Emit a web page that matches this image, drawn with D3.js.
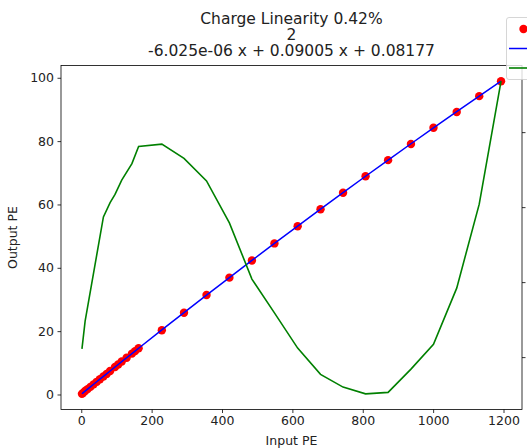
<!DOCTYPE html>
<html>
<head>
<meta charset="utf-8">
<script src="https://cdn.jsdelivr.net/npm/d3@7"></script>
<style>
  body { margin: 0; background: #fff; }
  svg { display: block; font-family: 'DejaVu Sans', sans-serif; }
</style>
</head>
<body>
<div id="chart"></div>
<script>
// measured points (input PE vs output PE)
const inputPE = [2, 5, 11, 18, 26, 35, 44, 53, 63, 72, 82, 96, 105, 115, 129, 144, 153, 163,
  229, 292, 356, 421, 485, 549, 615, 680, 744, 808, 872, 937, 1001, 1067, 1131, 1193];
const outputPE = [0.2, 0.5, 1.1, 1.7, 2.4, 3.2, 4.0, 4.8, 5.7, 6.5, 7.4, 8.7, 9.5, 10.4, 11.6, 12.9, 13.7, 14.6,
  20.3, 25.8, 31.4, 36.9, 42.3, 47.7, 53.1, 58.5, 63.7, 68.9, 74.0, 79.1, 84.2, 89.2, 94.2, 98.9];
// fitted curve at the same inputs
const fitPE = [0.25, 0.53, 1.07, 1.70, 2.42, 3.23, 4.03, 4.84, 5.73, 6.53, 7.43, 8.67, 9.47, 10.36, 11.60, 12.92, 13.72, 14.60,
  20.39, 25.86, 31.38, 36.93, 42.34, 47.70, 53.18, 58.53, 63.74, 68.91, 74.03, 79.17, 84.19, 89.31, 94.22, 98.94];
// residual on the twin axis (its tick labels fall outside the picture)
const residualX = [2, 11, 63, 82, 96, 115, 144, 163, 229, 292, 356, 421, 485, 549, 615, 680, 744, 808, 872, 937, 1001, 1067, 1131, 1193];
const residualY = [-0.089, -0.052, 0.087, 0.106, 0.117, 0.136, 0.158, 0.181, 0.184, 0.165, 0.135, 0.079, 0.004, -0.041,
  -0.088, -0.123, -0.140, -0.149, -0.147, -0.116, -0.083, -0.008, 0.104, 0.268];

const xTicks = [0, 200, 400, 600, 800, 1000, 1200];
const yTicks = [0, 20, 40, 60, 80, 100];
const y2Ticks = [-0.1, 0.0, 0.1, 0.2];
const titleLines = ['Charge Linearity 0.42%', '2', '-6.025e-06 x + 0.09005 x + 0.08177'];

const W = 527, H = 448;
const margin = {top: 65.5, right: 5, bottom: 38.5, left: 61},
  width = W - margin.left - margin.right,
  height = H - margin.top - margin.bottom;

// matplotlib-style 5% margins
function padded(ext) {
  const r = ext[1] - ext[0];
  return [ext[0] - r * 0.05, ext[1] + r * 0.05];
}

const x = d3.scaleLinear()
  .domain(padded(d3.extent(inputPE.concat(residualX))))
  .range([0, width]);
const y = d3.scaleLinear()
  .domain(padded(d3.extent(outputPE.concat(fitPE))))
  .range([height, 0]);
const y2 = d3.scaleLinear()
  .domain(padded(d3.extent(residualY)))
  .range([height, 0]);

const svg = d3.select('#chart').append('svg')
  .attr('width', W)
  .attr('height', H);

const g = svg.append('g')
  .attr('transform', `translate(${margin.left},${margin.top})`);

const fontSize = 12.5;

// axes
const xAxis = g.append('g')
  .attr('transform', `translate(0,${height})`)
  .call(d3.axisBottom(x).tickValues(xTicks).tickSize(3.5).tickPadding(3.5).tickFormat(d3.format('d')));
const yAxis = g.append('g')
  .call(d3.axisLeft(y).tickValues(yTicks).tickSize(3.5).tickPadding(3.5).tickFormat(d3.format('d')));
// right axis: labels are cut off by the picture edge, so only the tick marks
const y2Axis = g.append('g')
  .attr('transform', `translate(${width},0)`)
  .call(d3.axisRight(y2).tickValues(y2Ticks).tickSize(3.5).tickFormat(''));

[xAxis, yAxis, y2Axis].forEach(a => {
  a.select('.domain').remove();
  a.selectAll('.tick line').attr('stroke', '#000').attr('stroke-width', 0.8);
  a.selectAll('.tick text')
    .attr('fill', '#222')
    .style('font-family', 'DejaVu Sans')
    .style('font-size', fontSize + 'px');
});

// frame
g.append('rect')
  .attr('width', width)
  .attr('height', height)
  .attr('fill', 'none')
  .attr('stroke', '#000')
  .attr('stroke-width', 0.8);

const line = d3.line()
  .x((d, i) => x(inputPE[i]))
  .y(d => y(d));

// data points
g.selectAll('.pt')
  .data(outputPE)
  .enter().append('circle')
  .attr('class', 'pt')
  .attr('cx', (d, i) => x(inputPE[i]))
  .attr('cy', d => y(d))
  .attr('r', 4.2)
  .attr('fill', '#ff0000');

// fit line
g.append('path')
  .datum(fitPE)
  .attr('fill', 'none')
  .attr('stroke', '#0000ff')
  .attr('stroke-width', 1.5)
  .attr('d', line);

// residual on twin axis
const resLine = d3.line()
  .x((d, i) => x(residualX[i]))
  .y(d => y2(d));

g.append('path')
  .datum(residualY)
  .attr('fill', 'none')
  .attr('stroke', '#008000')
  .attr('stroke-width', 1.6)
  .attr('d', resLine);

// title
const title = svg.append('text')
  .attr('text-anchor', 'middle')
  .style('font-size', '15.5px')
  .attr('fill', '#222');
[23.5, 40, 56].forEach((yy, i) => {
  title.append('tspan')
    .attr('x', margin.left + width / 2)
    .attr('y', yy)
    .text(titleLines[i]);
});

// axis labels
svg.append('text')
  .attr('x', margin.left + width / 2)
  .attr('y', 445)
  .attr('text-anchor', 'middle')
  .style('font-size', fontSize + 'px')
  .attr('fill', '#222')
  .text('Input PE');

svg.append('text')
  .attr('transform', `translate(17,${margin.top + height / 2}) rotate(-90)`)
  .attr('text-anchor', 'middle')
  .style('font-size', fontSize + 'px')
  .attr('fill', '#222')
  .text('Output PE');

// legend box (runs off the right edge, only the handles are visible)
const leg = svg.append('g').attr('transform', 'translate(506.5,17.5)');
leg.append('rect')
  .attr('width', 110)
  .attr('height', 62)
  .attr('rx', 2.5)
  .attr('fill', '#fff')
  .attr('fill-opacity', 0.8)
  .attr('stroke', '#cccccc')
  .attr('stroke-width', 0.8);
leg.append('circle')
  .attr('cx', 17)
  .attr('cy', 11.5)
  .attr('r', 4.2)
  .attr('fill', '#ff0000');
leg.append('line')
  .attr('x1', 2.5).attr('x2', 31)
  .attr('y1', 31).attr('y2', 31)
  .attr('stroke', '#0000ff').attr('stroke-width', 1.5);
leg.append('line')
  .attr('x1', 2.5).attr('x2', 31)
  .attr('y1', 50.5).attr('y2', 50.5)
  .attr('stroke', '#008000').attr('stroke-width', 1.6);
</script>
</body>
</html>
